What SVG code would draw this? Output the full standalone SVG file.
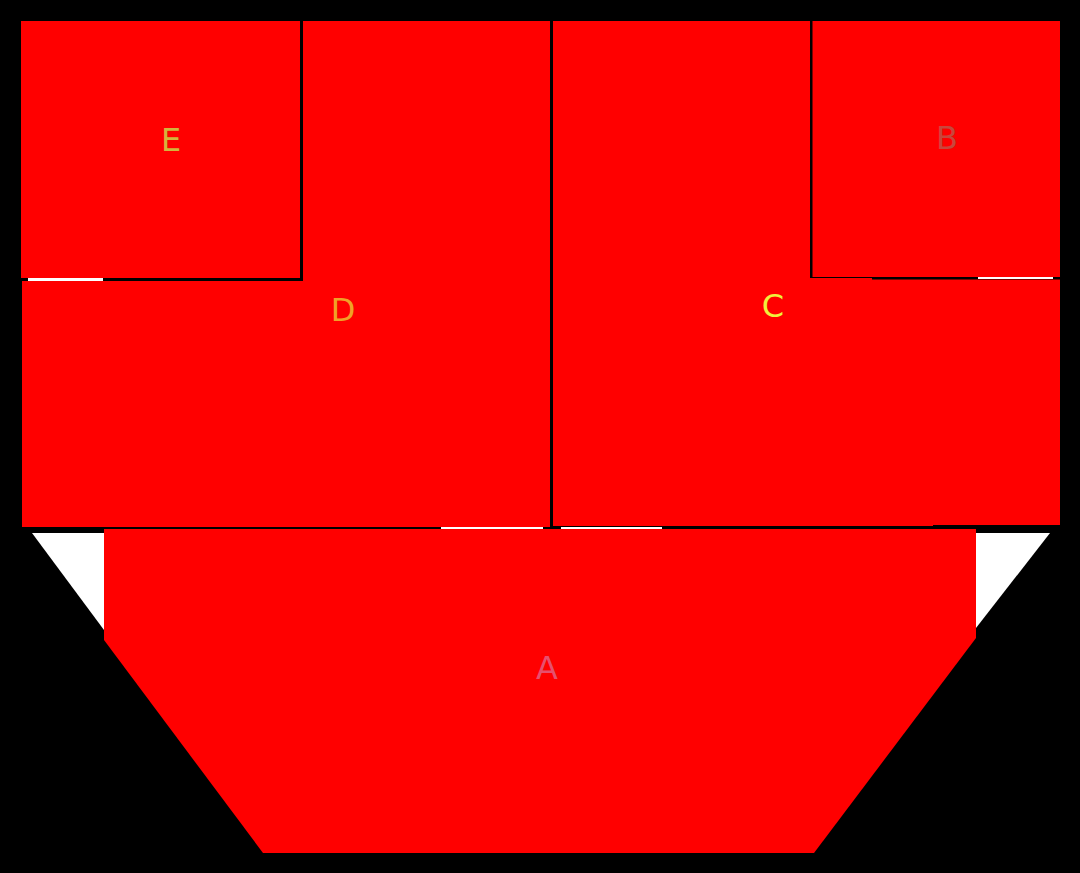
<svg xmlns="http://www.w3.org/2000/svg" width="1080" height="873" viewBox="0 0 1080 873">
<style>
.blk{fill:#ff0000;stroke:none}
.gap{fill:#ffffff;stroke:none}
.lbl{font-family:"DejaVu Sans","Liberation Sans",sans-serif;font-size:32px;text-anchor:middle}
</style>
<rect x="0" y="0" width="1080" height="873" fill="#000000"/>
<g id="whites">
<polygon class="gap" points="32,533 104,533 104,630"/>
<polygon class="gap" points="976,533 1050,533 976,628"/>
<rect class="gap" x="28" y="278" width="75" height="3"/>
<rect class="gap" x="978" y="277" width="75" height="2"/>
<rect class="gap" x="441" y="527" width="102" height="2"/>
<rect class="gap" x="561" y="527" width="101" height="2"/>
</g>
<g id="node-E">
<rect class="blk" x="21" y="21" width="279" height="257"/>
<text class="lbl" x="171" y="151" fill="#d4b43c">E</text>
</g>
<g id="node-D">
<polygon class="blk" points="303,21 550,21 550,527 22,527 22,281 303,281"/>
<text class="lbl" x="343" y="321" fill="#f0a028">D</text>
</g>
<g id="node-C">
<polygon class="blk" points="553,21 810,21 810,278 872,278 872,279.5 1060,279.5 1060,525 933,525 933,526 553,526"/>
<text class="lbl" x="773" y="317" fill="#f0f03c">C</text>
</g>
<g id="node-B">
<rect class="blk" x="812.5" y="21" width="247.5" height="256"/>
<text class="lbl" x="947" y="149" fill="#c8463c">B</text>
</g>
<g id="node-A">
<polygon class="blk" points="104,529 976,529 976,638 814,853 263,853 104,640"/>
<text class="lbl" x="547" y="679" fill="#e6506e">A</text>
</g>
</svg>
